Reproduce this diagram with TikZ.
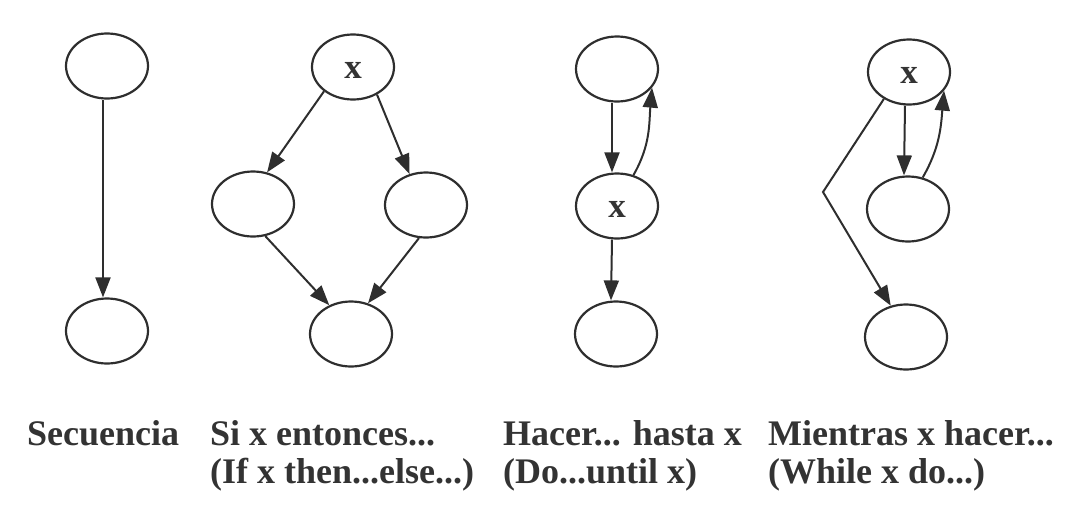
\documentclass[tikz,border=0pt]{standalone}
\usepackage{fontspec}
\setmainfont{Liberation Serif}
\usetikzlibrary{arrows.meta,shapes.geometric}
\definecolor{ink}{HTML}{2E2E2E}
\definecolor{txt}{HTML}{333333}
\tikzset{
  st/.style={ellipse,draw=ink,line width=2.2pt,minimum width=82pt,minimum height=65pt,inner sep=0pt},
  arr/.style={draw=ink,line width=2pt,-{Triangle[length=20pt,width=15pt]}},
  xl/.style={font=\fontsize{35}{36}\selectfont\bfseries,text=txt,yshift=-3pt},
  captext/.style={anchor=base west,inner sep=0pt,text=txt,font=\fontsize{36}{38}\selectfont\bfseries}
}
\begin{document}
\begin{tikzpicture}[x=1pt,y=1pt]
\useasboundingbox (0,0) rectangle (1065,-506);
% Secuencia
\node[st] (s1) at (107,-66) {};
\node[st] (s2) at (107,-331) {};
\draw[arr] ([xshift=-4pt]s1.south) -- ([xshift=-4pt]s2.north);
% If
\node[st] (i1) at (353,-67) {};
\node[xl] at (i1) {x};
\node[st] (i2) at (253,-204) {};
\node[st] (i3) at (426,-205) {};
\node[st] (i4) at (351,-334) {};
\draw[arr] (i1.-140) -- (i2.66);
\draw[arr] (i1.-49) -- (i3.118);
\draw[arr] (i2.-69) -- (i4.127);
\draw[arr] (i3.-102) -- (i4.61);
% Do ... until
\node[st] (d1) at (617,-69) {};
\node[st] (d2) at (617,-206) {};
\node[xl] at (d2) {x};
\node[st] (d3) at (616,-334) {};
\draw[arr] ([xshift=-5pt]d1.south) -- ([xshift=-5pt]d2.north);
\draw[arr] ([xshift=-5pt]d2.south) -- ([xshift=-5pt]d3.north);
\draw[arr] (d2.62) to[out=60,in=-95] (d1.-28);
% While
\node[st] (w1) at (909,-72) {};
\node[xl] at (w1) {x};
\node[st] (w2) at (908,-209) {};
\node[st] (w3) at (906,-337) {};
\coordinate (bend) at (823,-192);
\draw[arr] ([xshift=-4pt]w1.south) -- ([xshift=-4pt]w2.north);
\draw[arr] (w2.65) to[out=60,in=-95] (w1.-28);
\draw[arr] (w1.-133) -- (bend) -- (w3.116);
% captions
\node[captext] (c1) at (27,-445) {Secuencia};
\node[captext] (c2) at (210,-445) {Si x entonces...};
\node[captext] (c2b) at (210,-483) {(If x then...else...)};
\node[captext] (c3) at (503,-445) {Hacer... hasta x};
\node[captext] (c3b) at (503,-483) {(Do...until x)};
\node[captext] (c4) at (768,-445) {Mientras x hacer...};
\node[captext] (c4b) at (768,-483) {(While x do...)};
\end{tikzpicture}
\end{document}
